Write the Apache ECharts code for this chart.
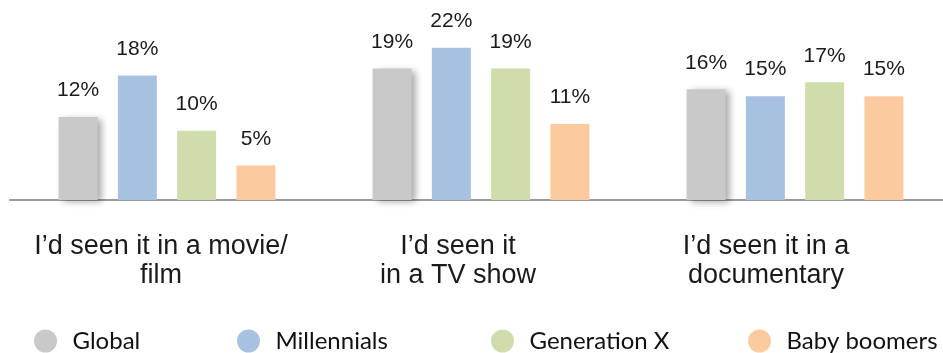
<!DOCTYPE html>
<html>
<head>
<meta charset="utf-8">
<script src="https://cdn.jsdelivr.net/npm/echarts@6/dist/echarts.min.js"></script>
<style>
  html, body { margin: 0; padding: 0; background: #fff; }
  #chart { width: 943px; height: 353px; }
</style>
</head>
<body>
<div id="chart"></div>
<script>
// Reasons people recognised a place, by generation (percent of respondents)
const categories = [
  'I\u2019d seen it in a movie/\nfilm',
  'I\u2019d seen it\nin a TV show',
  'I\u2019d seen it in a\ndocumentary'
];
const seriesNames = ['Global', 'Millennials', 'Generation X', 'Baby boomers'];
const globalValues = [12, 19, 16];
const millennialValues = [18, 22, 15];
const genXValues = [10, 19, 17];
const boomerValues = [5, 11, 15];

const colors = ['#C9C9C9', '#A7C1E0', '#CFDDAD', '#FBCB9F'];
const seriesValues = [globalValues, millennialValues, genXValues, boomerValues];

const ARIAL = '"Liberation Sans", Arial, sans-serif';

// category captions sit a little left of their bar groups
const captionShift = [12, 46, 58];

// left edge of each legend entry along the bottom row
const legendLeft = [29, 232, 486, 743];

const chart = echarts.init(document.getElementById('chart'), null, { renderer: 'canvas' });

const series = seriesNames.map((name, i) => ({
  name: name,
  type: 'bar',
  data: seriesValues[i],
  barWidth: 39,
  barGap: '52%',
  itemStyle: Object.assign(
    { color: colors[i] },
    i === 0 ? {
      shadowColor: 'rgba(0,0,0,0.35)',
      shadowBlur: 7,
      shadowOffsetX: 4,
      shadowOffsetY: 2
    } : {}
  ),
  label: {
    show: true,
    position: 'top',
    distance: 16,
    formatter: '{c}%',
    fontFamily: ARIAL,
    fontSize: 21,
    color: '#1a1a1a'
  },
  emphasis: { disabled: true }
}));

const legends = seriesNames.map((name, i) => ({
  data: [{ name: name, icon: 'circle' }],
  left: legendLeft[i],
  top: 324,
  itemWidth: 44,
  itemHeight: 23,
  itemGap: 0,
  selectedMode: false,
  textStyle: {
    fontFamily: 'Lato, "Open Sans", sans-serif',
    fontSize: 24,
    color: '#111'
  }
}));

chart.setOption({
  animation: false,
  backgroundColor: '#ffffff',
  legend: legends,
  grid: {
    left: 10, top: 27, width: 942, height: 173,
    outerBoundsMode: 'none',
    containLabel: false
  },
  xAxis: {
    type: 'category',
    data: categories.map((c, i) => ({
      value: c,
      textStyle: { padding: [0, captionShift[i], 0, 0] }
    })),
    axisLine: { show: true, lineStyle: { color: '#9A9A9A', width: 2 } },
    axisTick: { show: false },
    axisLabel: {
      margin: 32,
      fontFamily: ARIAL,
      fontSize: 27,
      lineHeight: 29,
      color: '#1a1a1a',
      interval: 0
    }
  },
  yAxis: {
    type: 'value',
    min: 0,
    max: 25,
    show: false,
    splitLine: { show: false }
  },
  series: series
});
</script>
</body>
</html>
